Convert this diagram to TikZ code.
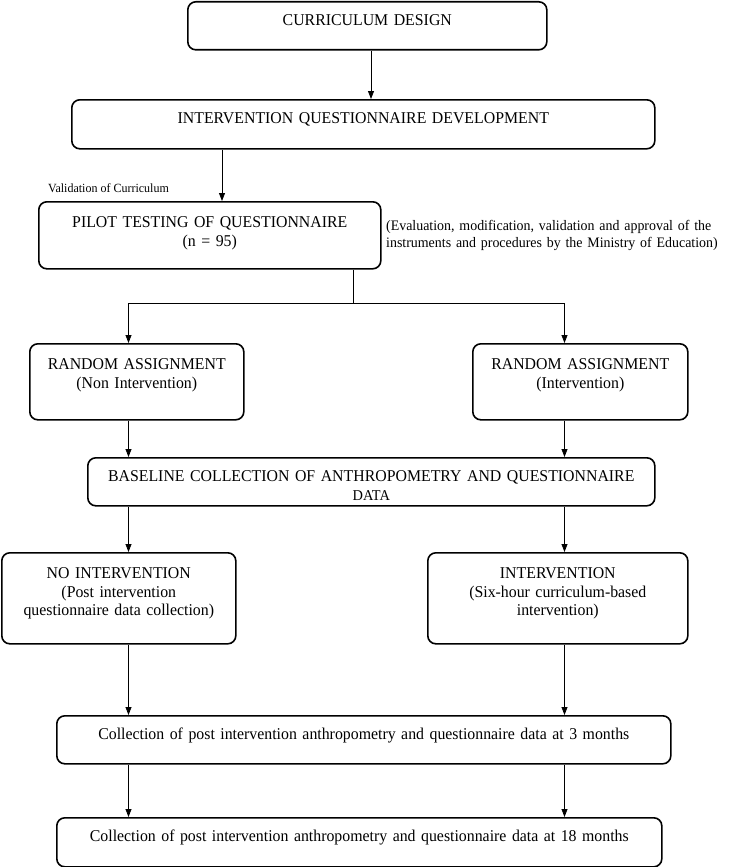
\documentclass[tikz,border=0pt]{standalone}
\usepackage{fontspec}
\setmainfont[FakeStretch=0.96]{Liberation Serif}
\usetikzlibrary{arrows.meta}

\begin{document}
\begin{tikzpicture}[x=1pt,y=-1pt,>={Triangle[length=8pt,width=6pt]},
 box/.style={draw,line width=1.6pt,rounded corners=8pt,anchor=north west,inner sep=0pt,align=center,font=\fontsize{16.5}{18.7}\selectfont},
 note/.style={anchor=base west,inner sep=0pt,align=left},
 arr/.style={line width=0.8pt,->}]
 \useasboundingbox (0,0) rectangle (736,867);
 \coordinate (colA) at (371,0);
 \coordinate (colB) at (222,0);
 \coordinate (colC) at (353,0);
 \coordinate (colL) at (128.5,0);
 \coordinate (colR) at (564.5,0);
 \coordinate (split) at (0,303);

 \node[box,text width=359pt,text height=23.5pt,text depth=24.5pt] (design) at (187,1) {CURRICULUM DESIGN};
 \node[box,text width=583pt,text height=23.5pt,text depth=25.5pt] (qdev) at (71,99) {INTERVENTION QUESTIONNAIRE DEVELOPMENT};
 \node[note,font=\fontsize{12.5}{14}\selectfont] (valid) at (48,192) {Validation of Curriculum};
 \node[box,text width=342pt,text height=25.5pt,text depth=41.5pt] (pilot) at (38,201) {PILOT TESTING OF QUESTIONNAIRE\\(n = 95)};
 \node[note,text width=400pt,font=\fontsize{14.5}{17.5}\selectfont] (eval) at (386,230) {(Evaluation, modification, validation and approval of the\\instruments and procedures by the Ministry of Education)};
 \node[box,text width=214pt,text height=25.5pt,text depth=50.5pt] (rl) at (29,343) {RANDOM ASSIGNMENT\\(Non Intervention)};
 \node[box,text width=215pt,text height=25.5pt,text depth=50.5pt] (rr) at (472,343) {RANDOM ASSIGNMENT\\(Intervention)};
 \node[box,text width=567pt,text height=23.5pt,text depth=24.5pt] (base) at (87,457) {BASELINE COLLECTION OF ANTHROPOMETRY AND QUESTIONNAIRE\\{\fontsize{15}{15}\selectfont DATA}};
 \node[box,text width=234pt,text height=25.5pt,text depth=65.5pt] (nl) at (1,552) {NO INTERVENTION\\(Post intervention\\questionnaire data collection)};
 \node[box,text width=260pt,text height=25.5pt,text depth=65.5pt] (nr) at (427,552) {INTERVENTION\\(Six-hour curriculum-based\\intervention)};
 \node[box,text width=614pt,text height=23.5pt,text depth=24.5pt] (m3) at (56,715) {Collection of post intervention anthropometry and questionnaire data at 3 months};
 \node[box,text width=605pt,text height=23.5pt,text depth=25.5pt] (m18) at (56,817) {Collection of post intervention anthropometry and questionnaire data at 18 months};

 \draw[arr] (colA |- design.south) -- (colA |- qdev.north);
 \draw[arr] (colB |- qdev.south) -- (colB |- pilot.north);
 \draw[line width=0.8pt] (colC |- pilot.south) -- (colC |- split);
 \draw[arr,<->] (colL |- rl.north) |- (colR |- split) -- (colR |- rr.north);
 \draw[arr] (colL |- rl.south) -- (colL |- base.north);
 \draw[arr] (colR |- rr.south) -- (colR |- base.north);
 \draw[arr] (colL |- base.south) -- (colL |- nl.north);
 \draw[arr] (colR |- base.south) -- (colR |- nr.north);
 \draw[arr] (colL |- nl.south) -- (colL |- m3.north);
 \draw[arr] (colR |- nr.south) -- (colR |- m3.north);
 \draw[arr] (colL |- m3.south) -- (colL |- m18.north);
 \draw[arr] (colR |- m3.south) -- (colR |- m18.north);
\end{tikzpicture}
\end{document}
